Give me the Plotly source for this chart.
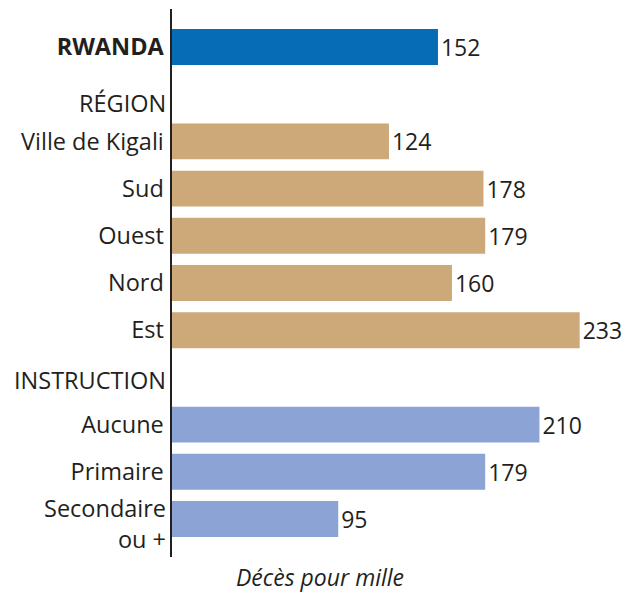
import plotly.graph_objects as go

categories = ["<b>RWANDA</b>", "RÉGION", "Ville de Kigali", "Sud", "Ouest", "Nord", "Est",
              "INSTRUCTION", "Aucune", "Primaire", "Secondaire<br>ou +"]
values = [152, None, 124, 178, 179, 160, 233, None, 210, 179, 95]
groups = ["total", "header", "region", "region", "region", "region", "region",
          "header", "instr", "instr", "instr"]
headers = ["RÉGION", "INSTRUCTION"]
axis_title = "Décès pour mille"

palette = {"total": "#066CB6", "region": "#CDA879", "instr": "#8BA4D5", "header": "rgba(0,0,0,0)"}
colors = [palette[g] for g in groups]
texts = ["" if v is None else str(v) for v in values]
# labels drawn as annotations (headers and the two-line label) get empty tick text
annotated = {"RÉGION": -9, "INSTRUCTION": -3, "Secondaire<br>ou +": -4}
ticktext = ["" if c in annotated else c for c in categories]

FONT = "Open Sans"
FS = 23.5
TXT = "#231F20"

fig = go.Figure()
fig.add_trace(go.Bar(
    x=values, y=categories, orientation="h",
    marker=dict(color=colors, line=dict(width=0)),
    width=0.76,
    text=texts, textposition="outside", constraintext="none", cliponaxis=False,
    textfont=dict(family=FONT, size=23, color=TXT),
    hoverinfo="skip",
))

for h, dy in annotated.items():
    fig.add_annotation(x=0, xref="paper", y=h, yref="y", text=h, showarrow=False,
                       xanchor="right", align="right", xshift=-4, yshift=dy,
                       font=dict(family=FONT, size=FS, color=TXT))

fig.add_annotation(x=0.327, xref="paper", y=0, yref="paper", xanchor="center", yanchor="top",
                   yshift=-3, borderpad=0, text="<i>" + axis_title + "</i>", showarrow=False,
                   font=dict(family=FONT, size=23, color=TXT))

fig.update_layout(
    template="none",
    width=635, height=593,
    margin=dict(l=172, r=10, t=9, b=36, autoexpand=False),
    paper_bgcolor="white", plot_bgcolor="white",
    showlegend=False,
    font=dict(family=FONT, size=FS, color=TXT),
    xaxis=dict(range=[0, 258.9], visible=False, fixedrange=True, automargin=False),
    yaxis=dict(categoryorder="array", categoryarray=categories, automargin=False,
               tickmode="array", tickvals=categories, ticktext=ticktext,
               range=[10.805, -0.805], showline=True, linecolor="#231F20", linewidth=2.5,
               ticks="", ticklabelstandoff=1, showgrid=False, zeroline=False,
               fixedrange=True, tickfont=dict(family=FONT, size=FS, color=TXT)),
)

fig.write_html("out.html", config={"displayModeBar": False, "staticPlot": True},
               post_script="document.body.style.margin='0';document.body.style.overflow='hidden';")
